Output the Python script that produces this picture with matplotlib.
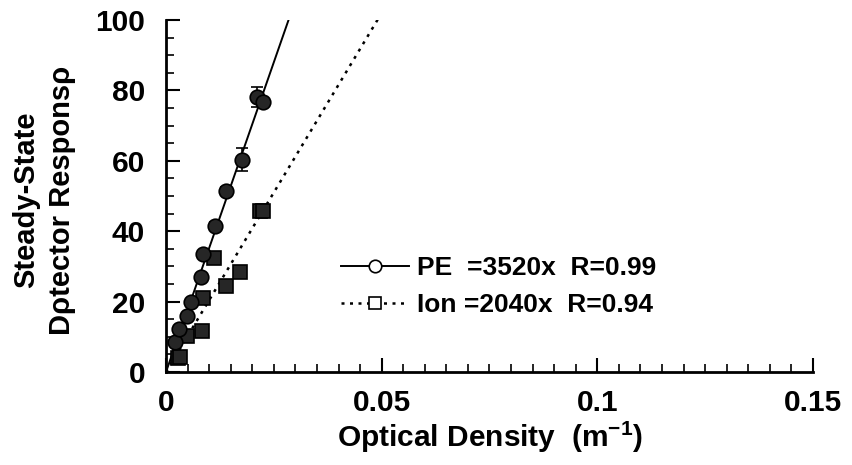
import matplotlib
matplotlib.use("Agg")
import matplotlib.pyplot as plt
import numpy as np
from matplotlib.lines import Line2D
from matplotlib.ticker import MultipleLocator

plt.rcParams['font.family'] = ['Liberation Sans', 'DejaVu Sans']
plt.rcParams['font.weight'] = 'bold'
plt.rcParams['mathtext.fontset'] = 'custom'
plt.rcParams['mathtext.rm'] = 'Liberation Sans:bold'
plt.rcParams['mathtext.bf'] = 'Liberation Sans:bold'
plt.rcParams['mathtext.default'] = 'bf'

# Photoelectric (PE) detector readings
pe_od = [0.0021, 0.0031, 0.0049, 0.0057, 0.0080, 0.0086, 0.0113, 0.0138, 0.0177, 0.0211, 0.0224]
pe_resp = [8.4, 12.3, 15.9, 20.0, 27.0, 33.5, 41.5, 51.5, 60.3, 78.2, 76.8]
pe_err = [0.8, 0.8, 0.8, 0.8, 0.8, 1.0, 1.2, 1.0, 3.3, 2.8, 1.0]

# Ionization detector readings
ion_od = [0.0028, 0.0032, 0.0049, 0.0083, 0.0085, 0.0111, 0.0138, 0.0172, 0.0218, 0.0226]
ion_resp = [4.0, 4.3, 10.3, 11.6, 20.9, 32.3, 24.4, 28.5, 45.8, 45.8]

# Linear fits through the origin
pe_slope = 3520
ion_slope = 2040
pe_r = 0.99
ion_r = 0.94

fig = plt.figure(figsize=(8.53, 4.65), dpi=100)
ax = fig.add_axes([166/853, 1 - 372/465, (813 - 166)/853, (372 - 20)/465])

xfit = np.linspace(0, 0.15, 400)
ax.plot(xfit, pe_slope * xfit, color='black', lw=1.4, solid_capstyle='butt')
ax.plot(xfit, ion_slope * xfit, color='black', lw=1.8, ls=(0, (1.2, 2.2)))

ax.errorbar(pe_od, pe_resp, yerr=pe_err, fmt='o', ms=10.5, mfc='#262626', mec='black',
            mew=1.2, ecolor='black', elinewidth=1.2, capsize=4, capthick=1.2, zorder=3)
ax.plot(ion_od, ion_resp, 's', ms=9.5, mfc='#262626', mec='black', mew=1.2, zorder=3)

ax.set_xlim(0, 0.15)
ax.set_ylim(0, 100)
ax.xaxis.set_major_locator(MultipleLocator(0.05))
ax.xaxis.set_minor_locator(MultipleLocator(0.005))
ax.yaxis.set_major_locator(MultipleLocator(20))
ax.yaxis.set_minor_locator(MultipleLocator(5))
ax.set_xticks([0, 0.05, 0.1, 0.15])
ax.set_xticklabels(['0', '0.05', '0.1', '0.15'])
ax.tick_params(which='major', direction='in', length=10, width=1.5, labelsize=21.5, pad=12)
ax.tick_params(which='minor', direction='in', length=6, width=1.2)
ax.tick_params(axis='y', pad=15)
for lab in ax.get_xticklabels() + ax.get_yticklabels():
    lab.set_fontweight('bold')

for s in ['top', 'right']:
    ax.spines[s].set_visible(False)
for s in ['left', 'bottom']:
    ax.spines[s].set_linewidth(2)

ax.set_xlabel('Optical Density  (m$^{-1}$)', fontsize=21.5, fontweight='bold', labelpad=2)
fig.text(44/853, 1 - 200/465, 'Steady-State\nDρtector Responsρ', rotation=90,
         ha='center', va='center', multialignment='center', fontsize=21,
         fontweight='bold', linespacing=1.35)

handles = [
    Line2D([], [], color='black', lw=1.4, marker='o', ms=9, mfc='white', mec='black', mew=1.2),
    Line2D([], [], color='black', lw=1.8, ls=(0, (1.2, 2.2)), marker='s', ms=9, mfc='white',
           mec='black', mew=1.2),
]
labels = [f'PE  ={pe_slope}x  R={pe_r:.2f}', f'Ion ={ion_slope}x  R={ion_r:.2f}']
leg = ax.legend(handles, labels, loc='upper left', bbox_to_anchor=(0.27, 0.33),
                frameon=False, fontsize=19, handlelength=2.6, handletextpad=0.3,
                labelspacing=0.5, borderpad=0, borderaxespad=0)
for t in leg.get_texts():
    t.set_fontweight('bold')

fig.savefig('out.png', dpi=100)
